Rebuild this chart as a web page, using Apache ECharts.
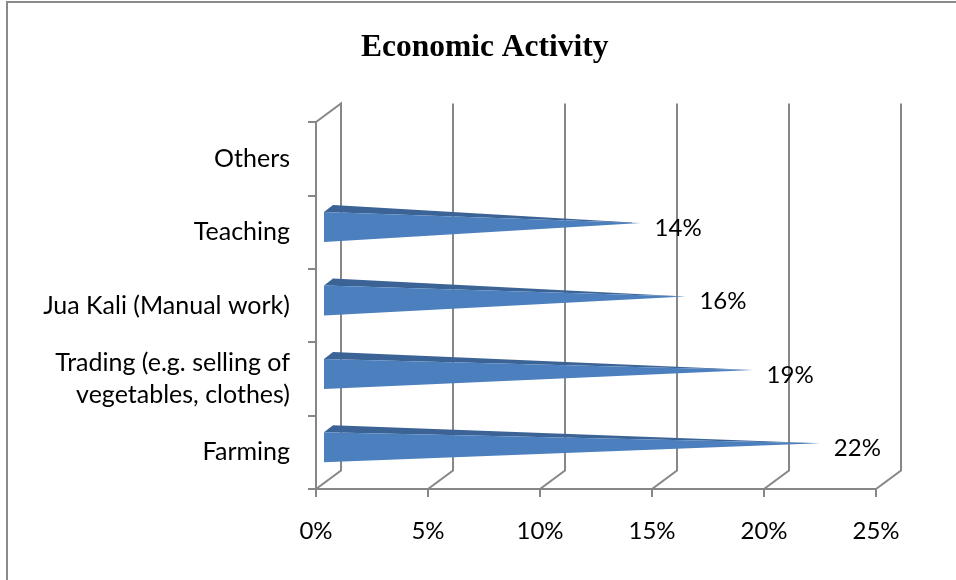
<!DOCTYPE html>
<html>
<head>
<meta charset="utf-8">
<script src="https://cdn.jsdelivr.net/npm/echarts@6/dist/echarts.min.js"></script>
<style>
  html, body { margin: 0; padding: 0; background: #fff; }
  #chart { width: 956px; height: 580px; }
</style>
</head>
<body>
<div id="chart"></div>
<script>
// Economic activity of respondents (share, %)
const categories = [
  'Farming',
  'Trading (e.g. selling of\nvegetables, clothes)',
  'Jua Kali (Manual work)',
  'Teaching',
  'Others'
];
const shares = [22, 19, 16, 14, null];
const xTicks = [0, 5, 10, 15, 20, 25];

// Depth of the pseudo-3D box (back plane offset from the front plane)
const DEPTH_X = 25;
const DEPTH_Y = -18.5;
const GRID_COLOR = '#878787';
const LABEL_FONT = 'Lato, "Open Sans", sans-serif';

const chart = echarts.init(document.getElementById('chart'));

// Back wall gridlines and floor diagonals
function renderWall(params, api) {
  const cs = params.coordSys;
  const x = api.coord([api.value(0), 0])[0];
  const top = cs.y;
  const bottom = cs.y + cs.height;
  const pts = [
    [x, bottom],
    [x + DEPTH_X, bottom + DEPTH_Y],
    [x + DEPTH_X, top + DEPTH_Y]
  ];
  if (api.value(0) === 0) pts.push([x, top]);
  return {
    type: 'polyline',
    shape: { points: pts },
    style: { stroke: GRID_COLOR, lineWidth: 2, fill: null }
  };
}

// Horizontal pyramid bar with its value label
function renderCone(params, api) {
  const v = api.value(0);
  if (!isFinite(v)) return null;
  const idx = api.value(1);
  const base = api.coord([0, idx]);
  const end = api.coord([v, idx]);
  const bx = base[0] + 8;
  const cy = base[1];
  const tip = [end[0] + 11, cy - 9];
  return {
    type: 'group',
    children: [
      {
        type: 'polygon',
        shape: { points: [[bx, cy - 20], [bx + 9, cy - 27], tip] },
        style: { fill: '#3c6395' }
      },
      {
        type: 'polygon',
        shape: { points: [[bx, cy - 20], [bx, cy + 10], tip] },
        style: { fill: '#4b7fbe' }
      },
      {
        type: 'text',
        style: {
          x: end[0] + DEPTH_X,
          y: cy - 4,
          text: v + '%',
          fill: '#000',
          font: '24px ' + LABEL_FONT,
          textAlign: 'left',
          textVerticalAlign: 'middle'
        }
      }
    ]
  };
}

chart.setOption({
  animation: false,
  backgroundColor: '#fff',
  title: {
    text: 'Economic Activity',
    left: 361,
    top: 32,
    padding: 0,
    textStyle: {
      fontFamily: '"Liberation Serif", "Times New Roman", serif',
      fontWeight: 'bold',
      fontSize: 31.5,
      color: '#000'
    }
  },
  graphic: [{
    type: 'rect',
    shape: { x: 7, y: 2, width: 1000, height: 1000 },
    style: { fill: null, stroke: '#8a8a8a', lineWidth: 2 },
    silent: true
  }],
  grid: { left: 316, right: 80, top: 122, bottom: 91 },
  xAxis: {
    type: 'value',
    min: 0,
    max: 25,
    interval: 5,
    axisLine: { show: true, lineStyle: { color: GRID_COLOR, width: 2 } },
    axisTick: { show: true, length: 8, lineStyle: { color: GRID_COLOR, width: 2 } },
    splitLine: { show: false },
    axisLabel: {
      formatter: '{value}%',
      color: '#000',
      fontFamily: LABEL_FONT,
      fontSize: 24,
      margin: 30
    }
  },
  yAxis: {
    type: 'category',
    data: categories,
    axisLine: { show: true, lineStyle: { color: GRID_COLOR, width: 2 } },
    axisTick: { show: true, length: 8, lineStyle: { color: GRID_COLOR, width: 2 } },
    axisLabel: {
      color: '#000',
      fontFamily: LABEL_FONT,
      fontSize: 25,
      lineHeight: 32,
      margin: 26,
      padding: [3, 0, 0, 0],
      align: 'right'
    }
  },
  series: [
    {
      type: 'custom',
      name: 'wall',
      renderItem: renderWall,
      clip: false,
      silent: true,
      z: 1,
      data: xTicks.map(t => [t, 0]),
      encode: { x: 0, y: 1 }
    },
    {
      type: 'custom',
      name: 'Share',
      renderItem: renderCone,
      clip: false,
      z: 3,
      data: shares.map((v, i) => [v == null ? NaN : v, i]),
      encode: { x: 0, y: 1 }
    }
  ]
});
</script>
</body>
</html>
